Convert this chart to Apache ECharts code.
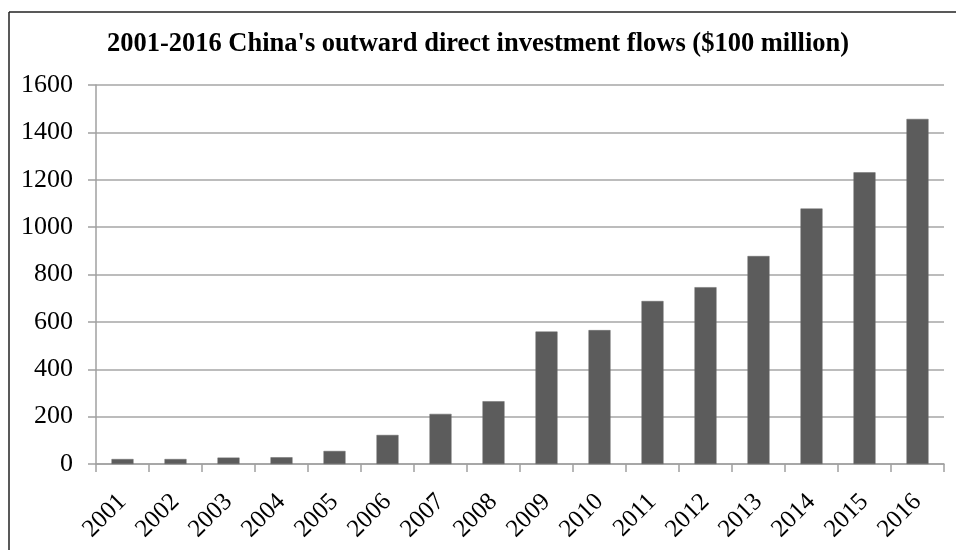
<!DOCTYPE html>
<html>
<head>
<meta charset="utf-8">
<script src="https://cdn.jsdelivr.net/npm/echarts@6/dist/echarts.min.js"></script>
<style>
html,body{margin:0;padding:0;background:#fff;}
#chart{width:956px;height:550px;}
</style>
</head>
<body>
<div id="chart"></div>
<script>
const titleText = "2001-2016 China's outward direct investment flows ($100 million)";
const years = ["2001","2002","2003","2004","2005","2006","2007","2008","2009","2010","2011","2012","2013","2014","2015","2016"];
const flows = [21, 21, 27, 28.5, 55, 122.6, 211.6, 265.1, 559.1, 565.3, 688.1, 746.5, 878, 1078.4, 1231.2, 1456.7];
const yTicks = { min: 0, max: 1600, interval: 200 };

const chart = echarts.init(document.getElementById('chart'), null, { renderer: 'canvas' });
const serif = '"Liberation Serif", "Times New Roman", serif';
chart.setOption({
  animation: false,
  backgroundColor: '#ffffff',
  title: {
    text: titleText,
    left: 'center',
    top: 26,
    textStyle: { fontFamily: serif, fontWeight: 'bold', fontSize: 26.5, color: '#000' }
  },
  graphic: [
    { type: 'line', shape: { x1: 9, y1: 12, x2: 956, y2: 12 }, style: { stroke: '#222', lineWidth: 1.5 } },
    { type: 'line', shape: { x1: 9, y1: 12, x2: 9, y2: 550 }, style: { stroke: '#222', lineWidth: 1.5 } }
  ],
  grid: { left: 96, right: 12, top: 85, bottom: 86, containLabel: false },
  xAxis: {
    type: 'category',
    data: years,
    axisLine: { show: true, lineStyle: { color: '#a0a0a0', width: 1.5 } },
    axisTick: { show: true, length: 8, lineStyle: { color: '#a0a0a0', width: 1.5 } },
    axisLabel: { rotate: 45, margin: 34, fontFamily: serif, fontSize: 25, color: '#000' }
  },
  yAxis: {
    type: 'value',
    min: yTicks.min, max: yTicks.max, interval: yTicks.interval,
    axisLine: { show: true, lineStyle: { color: '#a0a0a0', width: 1.5 } },
    axisTick: { show: true, length: 8, lineStyle: { color: '#a0a0a0', width: 1.5 } },
    splitLine: { show: true, lineStyle: { color: '#a6a6a6', width: 1.5 } },
    axisLabel: { margin: 23, fontFamily: serif, fontSize: 26, color: '#000', formatter: v => String(v) }
  },
  series: [{
    type: 'bar',
    data: flows,
    barWidth: 22,
    itemStyle: { color: '#5c5c5c', borderColor: '#6a6a6a', borderWidth: 0.5 }
  }]
});
</script>
</body>
</html>
